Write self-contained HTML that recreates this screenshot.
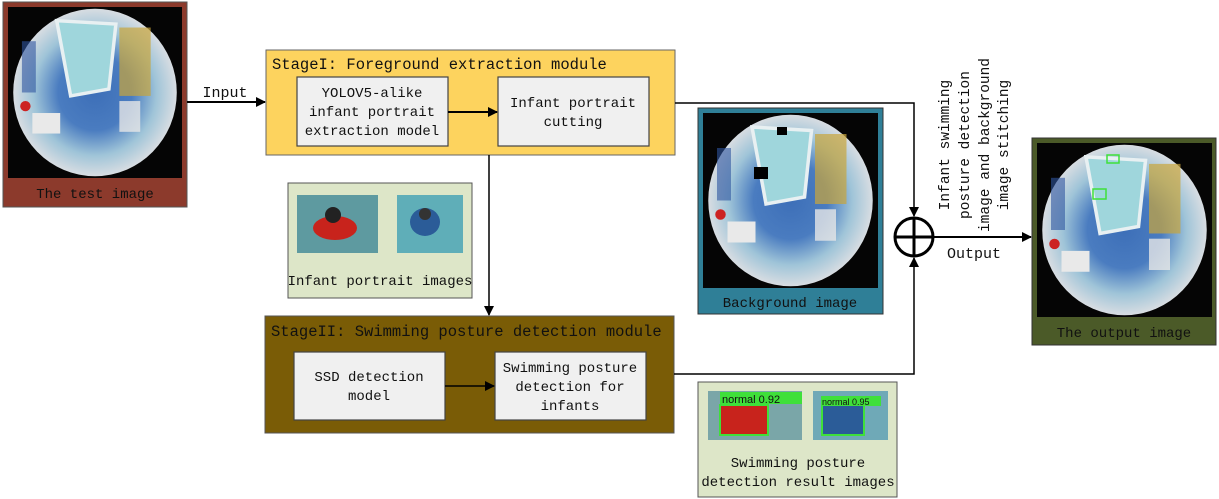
<!DOCTYPE html>
<html><head><meta charset="utf-8"><style>
html,body{margin:0;padding:0;background:#fff;}
svg{display:block;}
text{font-family:"Liberation Mono","DejaVu Sans Mono",monospace;fill:#111;}
</style></head><body>
<svg width="1219" height="499" viewBox="0 0 1219 499" xmlns="http://www.w3.org/2000/svg">
<defs>
<marker id="ah" markerWidth="10" markerHeight="10" refX="9" refY="5" orient="auto" markerUnits="userSpaceOnUse">
<path d="M0,0 L10,5 L0,10 z" fill="#000"/></marker>
<radialGradient id="fe" cx="50%" cy="50%" r="50%">
<stop offset="0" stop-color="#3d6fb8"/><stop offset="0.45" stop-color="#4a7cc0"/>
<stop offset="0.75" stop-color="#9fc4d8"/><stop offset="1" stop-color="#d8dde2"/></radialGradient>
<g id="fish">
<rect x="0" y="0" width="100" height="100" fill="#050505"/>
<ellipse cx="50" cy="50" rx="47" ry="49" fill="url(#fe)"/>
<path d="M28,8 L62,10 L58,48 L36,52 Z" fill="#9fd6dc" stroke="#e8f0f2" stroke-width="2"/>
<rect x="64" y="12" width="18" height="40" fill="#c9a53a" opacity="0.7"/>
<rect x="14" y="62" width="16" height="12" fill="#e9e9e9"/>
<rect x="8" y="20" width="8" height="30" fill="#2f55a0" opacity="0.6"/>
<rect x="64" y="55" width="12" height="18" fill="#e6e6e6" opacity="0.8"/>
<circle cx="10" cy="58" r="3" fill="#c22"/>
</g>
</defs>

<!-- Test image -->
<rect x="3" y="2" width="184" height="205" fill="#8c3a2c" stroke="#555" stroke-width="1"/>
<g transform="translate(8,7) scale(1.74,1.71)"><use href="#fish"/></g>
<text x="95" y="198" font-size="14" text-anchor="middle">The test image</text>

<!-- Input arrow -->
<line x1="187" y1="102" x2="265" y2="102" stroke="#000" stroke-width="2" marker-end="url(#ah)"/>
<text x="225" y="97" font-size="15" text-anchor="middle">Input</text>

<!-- Stage I -->
<rect x="266" y="50" width="409" height="105" fill="#fdd35e" stroke="#666" stroke-width="1"/>
<text x="272" y="69" font-size="15.5">StageI: Foreground extraction module</text>
<rect x="297" y="77" width="151" height="69" fill="#f0f0f0" stroke="#444" stroke-width="1.2"/>
<text x="372" y="97" font-size="14" text-anchor="middle">YOLOV5-alike</text>
<text x="372" y="116" font-size="14" text-anchor="middle">infant portrait</text>
<text x="372" y="135" font-size="14" text-anchor="middle">extraction model</text>
<rect x="498" y="77" width="151" height="69" fill="#f0f0f0" stroke="#444" stroke-width="1.2"/>
<text x="573" y="107" font-size="14" text-anchor="middle">Infant portrait</text>
<text x="573" y="126" font-size="14" text-anchor="middle">cutting</text>
<line x1="448" y1="112" x2="497" y2="112" stroke="#000" stroke-width="2" marker-end="url(#ah)"/>

<!-- vertical to stage II -->
<line x1="489" y1="155" x2="489" y2="315" stroke="#000" stroke-width="1.5" marker-end="url(#ah)"/>

<!-- Infant portrait images -->
<rect x="288" y="183" width="184" height="115" fill="#dde6c8" stroke="#555" stroke-width="1"/>
<rect x="297" y="195" width="81" height="58" fill="#5e9aa0"/>
<ellipse cx="335" cy="228" rx="22" ry="12" fill="#c8231c"/>
<circle cx="333" cy="215" r="8" fill="#222"/>
<rect x="397" y="195" width="66" height="58" fill="#5faeb8"/>
<ellipse cx="425" cy="222" rx="15" ry="14" fill="#2b5c98"/>
<circle cx="425" cy="214" r="6" fill="#333"/>
<text x="380" y="285" font-size="14" text-anchor="middle">Infant portrait images</text>

<!-- Stage II -->
<rect x="265" y="316" width="409" height="117" fill="#7a5c06" stroke="#555" stroke-width="1"/>
<text x="271" y="336" font-size="15.5">StageII: Swimming posture detection module</text>
<rect x="294" y="352" width="151" height="68" fill="#f0f0f0" stroke="#444" stroke-width="1.2"/>
<text x="369" y="381" font-size="14" text-anchor="middle">SSD detection</text>
<text x="369" y="400" font-size="14" text-anchor="middle">model</text>
<rect x="495" y="352" width="151" height="68" fill="#f0f0f0" stroke="#444" stroke-width="1.2"/>
<text x="570" y="372" font-size="14" text-anchor="middle">Swimming posture</text>
<text x="570" y="391" font-size="14" text-anchor="middle">detection for</text>
<text x="570" y="410" font-size="14" text-anchor="middle">infants</text>
<line x1="445" y1="386" x2="494" y2="386" stroke="#000" stroke-width="1.5" marker-end="url(#ah)"/>

<!-- connectors to circle -->
<polyline points="675,103 914,103 914,216" fill="none" stroke="#000" stroke-width="1.5" marker-end="url(#ah)"/>
<polyline points="674,374 914,374 914,258" fill="none" stroke="#000" stroke-width="1.5" marker-end="url(#ah)"/>
<circle cx="914" cy="237" r="19" fill="#fff" stroke="#000" stroke-width="3"/>
<line x1="895" y1="237" x2="933" y2="237" stroke="#000" stroke-width="3"/>
<line x1="914" y1="218" x2="914" y2="256" stroke="#000" stroke-width="3"/>
<line x1="933" y1="237" x2="1031" y2="237" stroke="#000" stroke-width="2" marker-end="url(#ah)"/>
<text x="974" y="258" font-size="15" text-anchor="middle">Output</text>

<!-- rotated label -->
<g font-size="14.5">
<text transform="translate(949,145) rotate(-90)" text-anchor="middle">Infant swimming</text>
<text transform="translate(969,145) rotate(-90)" text-anchor="middle">posture detection</text>
<text transform="translate(989,145) rotate(-90)" text-anchor="middle">image and background</text>
<text transform="translate(1008,145) rotate(-90)" text-anchor="middle">image stitching</text>
</g>

<!-- Background image -->
<rect x="698" y="108" width="185" height="206" fill="#2f7f97" stroke="#333" stroke-width="1"/>
<g transform="translate(703,113) scale(1.75,1.75)"><use href="#fish"/></g>
<rect x="754" y="167" width="14" height="12" fill="#000"/>
<rect x="777" y="127" width="10" height="8" fill="#000"/>
<text x="790" y="307" font-size="14" text-anchor="middle">Background image</text>

<!-- Swimming result images -->
<rect x="698" y="382" width="199" height="115" fill="#dde6c8" stroke="#555" stroke-width="1"/>
<rect x="708" y="391" width="94" height="49" fill="#7aa6a8"/>
<rect x="720" y="405" width="48" height="30" fill="#c8231c" stroke="#3fe03a" stroke-width="2"/>
<rect x="720" y="392" width="82" height="12" fill="#3fe03a"/>
<text x="722" y="403" font-size="11" style="font-family:'Liberation Sans',sans-serif">normal 0.92</text>
<rect x="813" y="391" width="75" height="49" fill="#6fa9b7"/>
<rect x="822" y="405" width="42" height="30" fill="#2b5c98" stroke="#3fe03a" stroke-width="2"/>
<rect x="821" y="396" width="60" height="10" fill="#3fe03a"/>
<text x="822" y="405" font-size="9" style="font-family:'Liberation Sans',sans-serif">normal 0.95</text>
<text x="798" y="467" font-size="14" text-anchor="middle">Swimming posture</text>
<text x="798" y="486" font-size="14" text-anchor="middle">detection result images</text>

<!-- Output image -->
<rect x="1032" y="138" width="184" height="207" fill="#4b5a28" stroke="#333" stroke-width="1"/>
<g transform="translate(1037,143) scale(1.75,1.74)"><use href="#fish"/></g>
<rect x="1107" y="155" width="12" height="8" fill="none" stroke="#3fe03a" stroke-width="1.5"/>
<rect x="1093" y="189" width="13" height="10" fill="none" stroke="#3fe03a" stroke-width="1.5"/>
<text x="1124" y="337" font-size="14" text-anchor="middle">The output image</text>
</svg>
</body></html>
